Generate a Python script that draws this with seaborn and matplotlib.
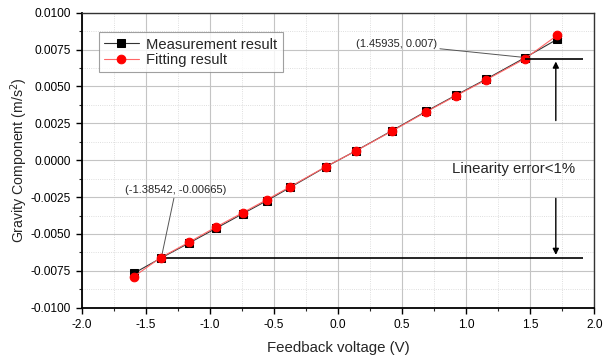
import numpy as np
import pandas as pd
import matplotlib
matplotlib.use("Agg")
import matplotlib.pyplot as plt
from matplotlib.ticker import MultipleLocator, FormatStrFormatter
import seaborn as sns

# values
voltage = [-1.594, -1.385, -1.165, -0.952, -0.744, -0.556, -0.374, -0.096,
           0.138, 0.419, 0.687, 0.921, 1.155, 1.459, 1.711]
measured = [-0.00767, -0.00665, -0.00563, -0.00462, -0.00363, -0.00275, -0.00185, -0.00046,
            0.00063, 0.00199, 0.00331, 0.00441, 0.00549, 0.00695, 0.00820]
fitted = [-0.00790, -0.00661, -0.00557, -0.00453, -0.00356, -0.00268, -0.00180, -0.00044,
          0.00062, 0.00196, 0.00327, 0.00437, 0.00544, 0.00688, 0.00847]

upper_pt = (1.45935, 0.00688)
lower_pt = (-1.38542, -0.00661)

sns.set_style("white")
plt.rcParams['font.family'] = ['Liberation Sans', 'DejaVu Sans']

df = pd.DataFrame({'voltage': voltage, 'measured': measured, 'fitted': fitted})

fig = plt.figure(figsize=(6.03, 3.58), dpi=100)
ax = fig.add_axes([0.1355, 0.1405, 0.85, 0.824])

sns.lineplot(data=df, x='voltage', y='measured', ax=ax, color='#333333', lw=0.8,
             marker='s', markersize=5.4, markerfacecolor='black', markeredgecolor='black',
             label='Measurement result', zorder=3)
sns.lineplot(data=df, x='voltage', y='fitted', ax=ax, color='#ff6666', lw=0.8,
             marker='o', markersize=6.2, markerfacecolor='red', markeredgecolor='red',
             label='Fitting result', zorder=4)

ax.set_xlim(-2.0, 2.0)
ax.set_ylim(-0.01, 0.01)
ax.xaxis.set_major_locator(MultipleLocator(0.5))
ax.xaxis.set_minor_locator(MultipleLocator(0.25))
ax.yaxis.set_major_locator(MultipleLocator(0.0025))
ax.yaxis.set_minor_locator(MultipleLocator(0.00125))
ax.xaxis.set_major_formatter(FormatStrFormatter('%.1f'))
ax.yaxis.set_major_formatter(FormatStrFormatter('%.4f'))
ax.grid(which='major', color='#c4c4c4', lw=0.8)
ax.grid(which='minor', color='#d4d4d4', lw=0.6, ls=':')
ax.set_axisbelow(True)
ax.tick_params(which='major', direction='out', length=4, width=1, labelsize=8.6, colors='black',
               bottom=True, left=True, pad=4)
ax.tick_params(which='minor', direction='out', length=2.5, width=0.8, bottom=True, left=True)
for s in ['bottom', 'left']:
    ax.spines[s].set_linewidth(1.3)
    ax.spines[s].set_color('black')
for s in ['top', 'right']:
    ax.spines[s].set_linewidth(1.0)
    ax.spines[s].set_color('#333333')

ax.set_xlabel('Feedback voltage (V)', fontsize=10.8, labelpad=7)
ax.set_ylabel('Gravity Component (m/s$^2$)', fontsize=10.2, labelpad=0)

leg = ax.legend(loc='upper left', bbox_to_anchor=(0.033, 0.933), fontsize=10.6, frameon=True,
                fancybox=False, edgecolor='#888888', borderpad=0.35, labelspacing=0.1,
                handlelength=2.4, handletextpad=0.5, borderaxespad=0)
leg.get_frame().set_linewidth(0.8)

# reference lines and arrows for the linearity error
ax.hlines(upper_pt[1], upper_pt[0], 1.91, color='black', lw=1.2, zorder=5)
ax.hlines(lower_pt[1], lower_pt[0], 1.91, color='black', lw=1.2, zorder=2)
ax.annotate('', xy=(1.70, upper_pt[1]), xytext=(1.70, 0.0025),
            arrowprops=dict(arrowstyle='-|>', color='black', lw=1, mutation_scale=9))
ax.annotate('', xy=(1.70, lower_pt[1]), xytext=(1.70, -0.0024),
            arrowprops=dict(arrowstyle='-|>', color='black', lw=1, mutation_scale=9))
ax.text(0.89, -0.0006, 'Linearity error<1%', fontsize=10.8, va='center', ha='left')

ax.annotate('(1.45935, 0.007)', xy=(1.44, 0.00698), xytext=(0.77, 0.00786),
            fontsize=8, va='center', ha='right',
            arrowprops=dict(arrowstyle='-', color='#555555', lw=0.7, shrinkA=0, shrinkB=0))
ax.annotate('(-1.38542, -0.00665)', xy=(-1.376, -0.0065), xytext=(-1.267, -0.00236),
            fontsize=8, va='bottom', ha='center',
            arrowprops=dict(arrowstyle='-', color='#555555', lw=0.7, shrinkA=0, shrinkB=0))

fig.savefig('out.png', dpi=100)
